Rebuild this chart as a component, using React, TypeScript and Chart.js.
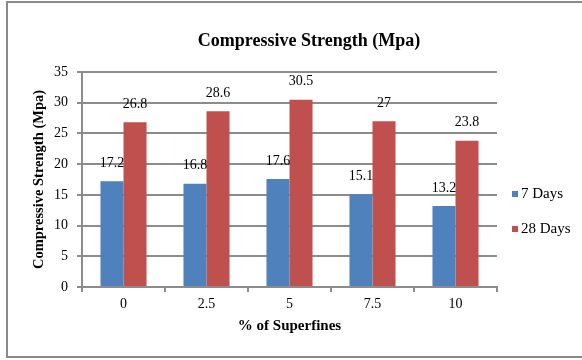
import React, { useEffect, useRef } from "react";
import { Chart, registerables } from "chart.js";

Chart.register(...registerables);

// Chart values
const categories = ["0", "2.5", "5", "7.5", "10"];
const days7 = [17.2, 16.8, 17.6, 15.1, 13.2];
const days28 = [26.8, 28.6, 30.5, 27, 23.8];
const seriesNames = ["7 Days", "28 Days"];
const seriesColors = ["#4F81BD", "#C0504D"];
const chartTitle = "Compressive Strength (Mpa)";
const xTitle = "% of Superfines";
const yTitle = "Compressive Strength (Mpa)";
const yMin = 0;
const yMax = 35;
const yStep = 5;

const FONT = "'Liberation Serif', 'Times New Roman', serif";
const GRID = "#8c8c8c";

// Outer frame, main title, value labels and the side legend
const decorations = {
  id: "decorations",
  beforeDraw(chart: any) {
    const ctx = chart.ctx;
    ctx.save();
    ctx.fillStyle = "#ffffff";
    ctx.fillRect(0, 0, chart.width, chart.height);
    ctx.strokeStyle = "#8a8a8a";
    ctx.lineWidth = 2;
    ctx.beginPath();
    ctx.moveTo(chart.width + 2, 2);
    ctx.lineTo(7, 2);
    ctx.lineTo(7, 357);
    ctx.lineTo(chart.width + 2, 357);
    ctx.stroke();
    ctx.restore();
  },
  afterDatasetsDraw(chart: any) {
    const ctx = chart.ctx;
    ctx.save();
    ctx.fillStyle = "#000000";
    ctx.font = `14px ${FONT}`;
    ctx.textAlign = "center";
    ctx.textBaseline = "middle";
    chart.data.datasets.forEach((ds: any, di: number) => {
      const meta = chart.getDatasetMeta(di);
      meta.data.forEach((el: any, i: number) => {
        ctx.fillText(String(ds.data[i]), el.x, el.y - 18);
      });
    });
    ctx.restore();
  },
  afterDraw(chart: any) {
    const ctx = chart.ctx;
    ctx.save();
    // title
    ctx.fillStyle = "#000000";
    ctx.font = `bold 18px ${FONT}`;
    ctx.textAlign = "center";
    ctx.textBaseline = "middle";
    ctx.fillText(chartTitle, 309, 41);
    // legend
    const legendY = [194, 229];
    ctx.font = `15px ${FONT}`;
    ctx.textAlign = "left";
    chart.data.datasets.forEach((ds: any, di: number) => {
      const y = legendY[di];
      ctx.fillStyle = ds.backgroundColor;
      ctx.fillRect(512, y - 3, 6, 6);
      ctx.fillStyle = "#000000";
      ctx.fillText(ds.label, 521, y);
    });
    ctx.restore();
  },
};

export default function App() {
  const canvasRef = useRef<HTMLCanvasElement | null>(null);

  useEffect(() => {
    if (!canvasRef.current) return;
    const chart = new Chart(canvasRef.current, {
      type: "bar",
      data: {
        labels: categories,
        datasets: [
          {
            label: seriesNames[0],
            data: days7,
            backgroundColor: seriesColors[0],
            categoryPercentage: 0.555,
            barPercentage: 1,
          },
          {
            label: seriesNames[1],
            data: days28,
            backgroundColor: seriesColors[1],
            categoryPercentage: 0.555,
            barPercentage: 1,
          },
        ],
      },
      options: {
        responsive: false,
        animation: false,
        layout: { padding: { left: 30, right: 85, top: 72, bottom: 20 } },
        plugins: {
          legend: { display: false },
          title: { display: false },
          tooltip: { enabled: false },
        },
        scales: {
          x: {
            grid: {
              drawOnChartArea: false,
              drawTicks: true,
              tickLength: 5,
              color: GRID,
              lineWidth: 2,
            },
            border: { display: true, color: GRID, width: 2 },
            ticks: {
              color: "#000000",
              font: { family: FONT, size: 14 },
              padding: 4,
            },
            title: {
              display: true,
              text: xTitle,
              color: "#000000",
              font: { family: FONT, size: 15, weight: "bold" },
              padding: { top: 0, bottom: 5 },
            },
            afterFit(scale: any) {
              scale.height = 53;
            },
          },
          y: {
            min: yMin,
            max: yMax,
            grid: {
              drawTicks: true,
              tickLength: 5,
              color: GRID,
              lineWidth: 2,
            },
            border: { display: true, color: GRID, width: 2 },
            ticks: {
              stepSize: yStep,
              color: "#000000",
              font: { family: FONT, size: 14 },
              padding: 9,
            },
            title: {
              display: true,
              text: yTitle,
              color: "#000000",
              font: { family: FONT, size: 14.5, weight: "bold" },
              padding: { top: 1, bottom: 0 },
            },
            afterFit(scale: any) {
              scale.width = 52;
            },
          },
        },
      },
      plugins: [decorations],
    });
    return () => chart.destroy();
  }, []);

  return (
    <div style={{ position: "fixed", left: 0, top: 0, width: 582, height: 360 }}>
      <canvas ref={canvasRef} width={582} height={360} style={{ display: "block" }} />
    </div>
  );
}
